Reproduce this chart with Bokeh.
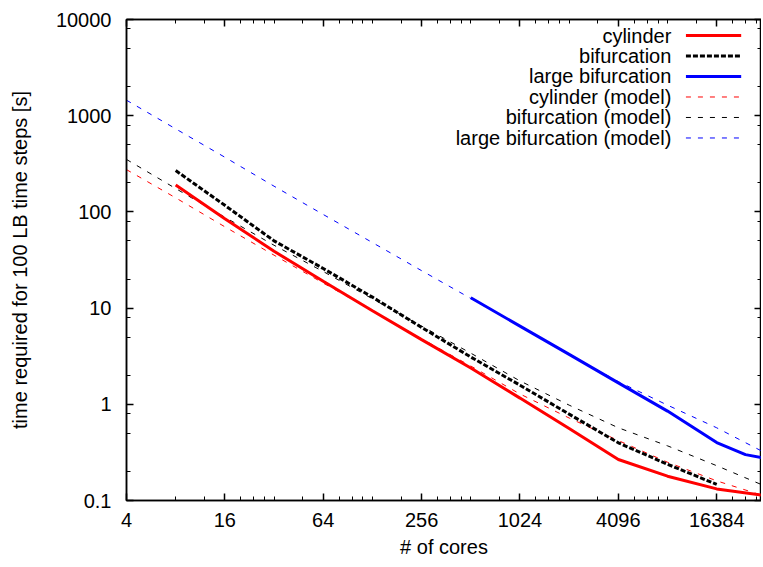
import numpy as np
from bokeh.plotting import figure
from bokeh.models import FixedTicker, LogAxis, Label, Range1d
from bokeh.embed import file_html
from bokeh.resources import INLINE

# ---------------- data ----------------
cores = [8, 16, 32, 64, 128, 256, 512, 1024, 2048, 4096, 8192, 16384, 32768]
cylinder = [190, 85, 39, 19, 9.4, 4.7, 2.38, 1.16, 0.56, 0.267, 0.179, 0.132, 0.112]

bif_cores = [8, 16, 32, 64, 128, 256, 512, 1024, 2048, 4096, 8192, 16384]
bifurcation = [269, 117, 50, 25.8, 13, 6.3, 3.1, 1.58, 0.79, 0.398, 0.238, 0.147]

large_cores = [512, 1024, 2048, 4096, 8192, 16384, 24576, 32768]
large_bifurcation = [12.8, 6.5, 3.3, 1.67, 0.85, 0.40, 0.30, 0.273]

model_cores = [4, 8, 16, 32, 64, 128, 256, 512, 1024, 2048, 4096, 8192, 16384, 32768]
cylinder_model = [275, 140, 70, 35.5, 18.2, 9.4, 4.8, 2.5, 1.28, 0.72, 0.42, 0.25, 0.16, 0.11]
bifurcation_model = [351, 175, 88, 45, 24, 12.5, 6.5, 3.4, 1.75, 0.98, 0.57, 0.37, 0.23, 0.14]
large_bifurcation_model = [1449, 730, 370, 185, 94, 48, 24.5, 12.6, 6.5, 3.3, 1.72, 0.98, 0.57, 0.31]

x_major = [4, 16, 64, 256, 1024, 4096, 16384]
x_labels = ["4", "16", "64", "256", "1024", "4096", "16384"]
y_major = [0.1, 1, 10, 100, 1000, 10000]
y_labels = ["0.1", "1", "10", "100", "1000", "10000"]

legend_labels = ["cylinder", "bifurcation", "large bifurcation",
                 "cylinder (model)", "bifurcation (model)", "large bifurcation (model)"]

# ---------------- styling ----------------
FONT = "Liberation Sans"
FS = "20px"
RED, BLACK, BLUE = "#ff0000", "#000000", "#0000ff"

X_MIN, X_MAX = 4, 30800
Y_MIN, Y_MAX = 0.1, 10000

x_minor = [8, 12] + [m * f for m in x_major[1:] for f in (1.25, 1.5, 1.75, 2, 3)]
y_minor = [d * f for d in y_major[:-1] for f in (2, 5, 8)]

xticker = FixedTicker(ticks=x_major, minor_ticks=x_minor)
yticker = FixedTicker(ticks=y_major, minor_ticks=y_minor)

p = figure(width=761, height=563,
           x_axis_type="log", y_axis_type="log",
           x_range=Range1d(X_MIN, X_MAX), y_range=Range1d(Y_MIN, Y_MAX),
           output_backend="svg", toolbar_location=None,
           min_border_left=126, min_border_right=0,
           min_border_top=19, min_border_bottom=63,
           x_axis_label="# of cores",
           y_axis_label="time required for 100 LB time steps [s]")

p.xgrid.visible = False
p.ygrid.visible = False
p.outline_line_color = "black"
p.outline_line_width = 1.5
p.background_fill_color = "white"
p.border_fill_color = "white"

bottom_axis = p.xaxis[0]
left_axis = p.yaxis[0]

bottom_axis.ticker = xticker
left_axis.ticker = yticker
bottom_axis.major_label_overrides = {v: s for v, s in zip(x_major, x_labels)}
left_axis.major_label_overrides = {v: s for v, s in zip(y_major, y_labels)}

top_axis = LogAxis(ticker=xticker)
right_axis = LogAxis(ticker=yticker)
top_axis.major_label_overrides = {v: "" for v in x_major}
right_axis.major_label_overrides = {v: "" for v in y_major}
p.add_layout(top_axis, "above")
p.add_layout(right_axis, "right")

for ax in [bottom_axis, left_axis, top_axis, right_axis]:
    ax.major_tick_in = 7
    ax.major_tick_out = 0
    ax.minor_tick_in = 4
    ax.minor_tick_out = 0
    ax.major_tick_line_width = 1.5
    ax.minor_tick_line_width = 1
    ax.axis_line_width = 1.5
    ax.major_label_text_font = FONT
    ax.major_label_text_font_size = FS
    ax.major_label_text_color = "black"
    ax.axis_label_text_font = FONT
    ax.axis_label_text_font_size = FS
    ax.axis_label_text_font_style = "normal"
    ax.axis_label_text_color = "black"

for ax in [top_axis, right_axis]:
    ax.major_label_text_font_size = "1px"
    ax.major_label_standoff = 0

bottom_axis.major_label_standoff = 12
bottom_axis.axis_label_standoff = 6
left_axis.major_label_standoff = 15
left_axis.axis_label_standoff = 22

# ---------------- series ----------------
p.line(model_cores, cylinder_model, line_color=RED, line_width=1, line_dash="5 7")
p.line(model_cores, bifurcation_model, line_color=BLACK, line_width=1, line_dash="5 7")
p.line(model_cores, large_bifurcation_model, line_color=BLUE, line_width=1, line_dash="5 7")

p.line(cores, cylinder, line_color=RED, line_width=3)
p.line(bif_cores, bifurcation, line_color=BLACK, line_width=3, line_dash="5 2")
p.line(large_cores, large_bifurcation, line_color=BLUE, line_width=3)

# ---------------- gnuplot-style key (text right, sample on the right) ----------------
lx0, lx1 = np.log10(X_MIN), np.log10(X_MAX)
ly0, ly1 = np.log10(Y_MIN), np.log10(Y_MAX)


def fx(frac):
    return float(10 ** (lx0 + frac * (lx1 - lx0)))


def fy(frac_top):
    return float(10 ** (ly1 - frac_top * (ly1 - ly0)))


key_styles = [
    dict(line_color=RED, line_width=3),
    dict(line_color=BLACK, line_width=3, line_dash="5 2"),
    dict(line_color=BLUE, line_width=3),
    dict(line_color=RED, line_width=1, line_dash="5 7"),
    dict(line_color=BLACK, line_width=1, line_dash="5 7"),
    dict(line_color=BLUE, line_width=1, line_dash="5 7"),
]
TEXT_X, SAMPLE_X0, SAMPLE_X1 = 0.858, 0.881, 0.968
ROW0, ROW_STEP = 0.0333, 0.0426

for i, (lab, st) in enumerate(zip(legend_labels, key_styles)):
    yy = fy(ROW0 + i * ROW_STEP)
    p.add_layout(Label(x=fx(TEXT_X), y=yy, text=lab, text_align="right",
                       text_baseline="middle", text_font=FONT,
                       text_font_size=FS, text_color="black"))
    p.line([fx(SAMPLE_X0), fx(SAMPLE_X1)], [yy, yy], **st)

open("out.html", "w").write(file_html(p, INLINE))
